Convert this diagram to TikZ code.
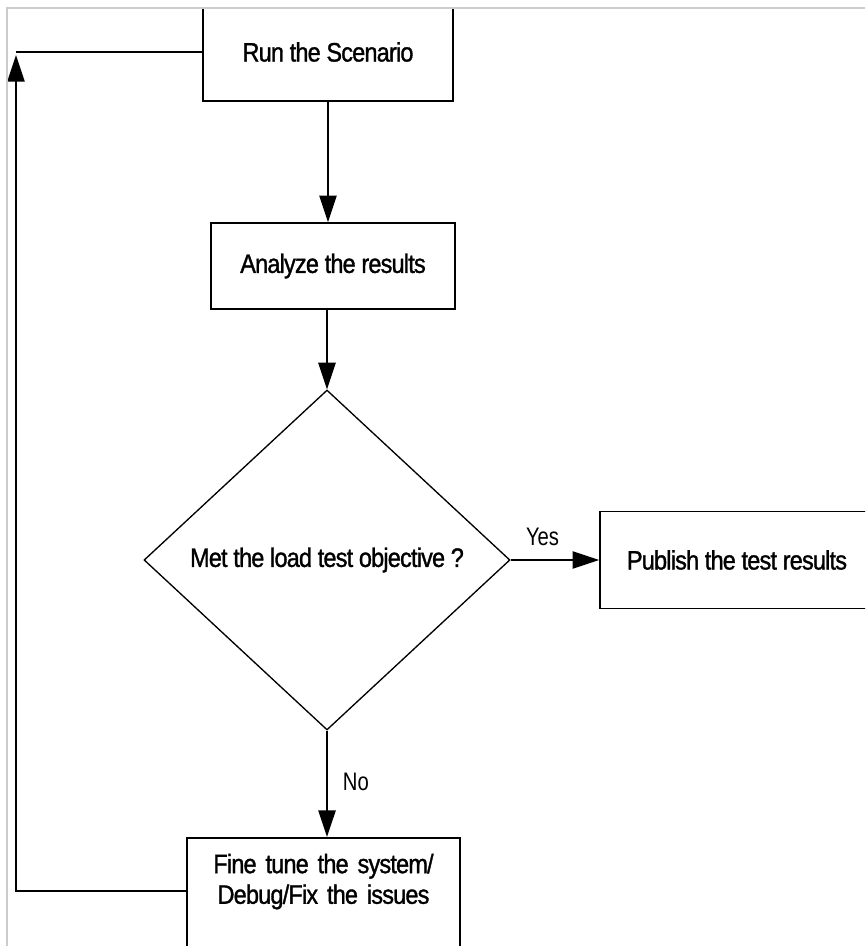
\documentclass[tikz,border=0pt]{standalone}
\usepackage{fontspec}
\setmainfont{Liberation Sans}[FakeStretch=0.88, LetterSpace=-3, FakeBold=1.2]
\newfontfamily\thinfont{Liberation Sans}[FakeStretch=0.8]
\usetikzlibrary{shapes,arrows.meta,positioning}

\begin{document}
\begin{tikzpicture}[x=0.75pt, y=-0.75pt, line width=1.2pt,
    every node/.append style={font=\fontsize{20}{23}\selectfont},
    box/.style={draw, rectangle, inner sep=0pt},
    decision/.style={draw, diamond, line width=1pt, minimum width=274.5pt, minimum height=255pt},
    flow/.style={-{Triangle[length=20pt, width=13pt]}},
    answer/.style={font=\thinfont\fontsize{19}{23}\selectfont}]
  \useasboundingbox (0,0) rectangle (865,946);
  \begin{scope}
    \clip (8,9) rectangle (865,946);
    \node(RunScenario)[box, minimum width=187.5pt, minimum height=73.5pt] at (328,52) {Run the Scenario};
    \node(Analyze)[box, minimum width=183pt, minimum height=64.5pt] at (333,266) {Analyze the results};
    \node(Objective)[decision] at (327,560) {Met the load test objective ?};
    \node(Publish)[box, minimum width=205.5pt, minimum height=72.75pt] at (737,560) {Publish the test results};
    \node(FineTune)[box, anchor=north, minimum width=204.75pt, text width=200pt, align=center,
      inner ysep=12pt, text depth=80pt] at (323.5,837) {Fine tune the system/\\Debug/Fix the issues};
    \coordinate (Back) at (16,52);
    % main flow
    \draw[flow] (RunScenario.south) -- (RunScenario.south |- Analyze.north);
    \draw[flow] (Analyze.south -| Objective.north) -- (Objective.north);
    \draw[flow] (Objective.east) -- (Publish.west) node[above=7pt, pos=0.36, answer] {Yes};
    \draw[flow] (Objective.south) -- (Objective.south |- FineTune.north) node[right=8pt, pos=0.48, answer] {No};
    % loop back
    \draw[flow] ([yshift=-40.5pt]FineTune.north west) -| ([yshift=-2.25pt]Back);
    \draw (Back) -- (RunScenario.west);
  \end{scope}
  \draw[gray!40, line width=1.5pt] (7,946) -- (7,8) -- (865,8);
\end{tikzpicture}
\end{document}
